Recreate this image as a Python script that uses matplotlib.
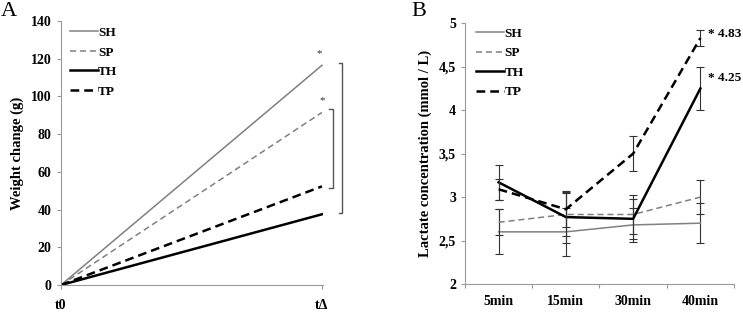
import matplotlib
matplotlib.use("Agg")
import matplotlib.pyplot as plt
import numpy as np

# ---------------- data ----------------
series = ["SH", "SP", "TH", "TP"]
a_xlabels = ["t0", "t\u0394"]
a_end = [116.5, 91.5, 37.5, 52.3]          # weight change at tΔ (start 0)

b_xlabels = ["5min", "15min", "30min", "40min"]
b_SH = [2.60, 2.60, 2.68, 2.70]
b_SP = [2.71, 2.80, 2.80, 3.00]
b_TH = [3.17, 2.77, 2.75, 4.25]
b_TP = [3.09, 2.86, 3.50, 4.83]
e_SH = [0.26, 0.28, 0.20, 0.23]
e_SP = [0.15, 0.25, 0.22, 0.20]
e_TH = [0.20, 0.30, 0.23, 0.25]
e_TP = [0.12, 0.20, 0.20, 0.09]

styles = {
    "SH": dict(color="#808080", lw=1.1, ls="-"),
    "SP": dict(color="#808080", lw=1.1, ls=(0, (4, 2.5))),
    "TH": dict(color="#000000", lw=1.8, ls="-"),
    "TP": dict(color="#000000", lw=1.8, ls=(0, (3.5, 2))),
}

plt.rcParams['font.family'] = ['Liberation Serif', 'DejaVu Serif']
fig = plt.figure(figsize=(7.43, 3.12), dpi=100)

W, H = 743.0, 312.0
def box(l, t, r, b):
    return [l / W, 1 - b / H, (r - l) / W, (b - t) / H]

spine_c = "#999999"
TFS = 10
tick_font = dict(fontsize=TFS, fontweight="bold")
leg_prop = dict(size=9.5, weight="bold")

# ---------------- Panel A ----------------
axA = fig.add_axes(box(61, 21, 323, 285))
for s, v in zip(series, a_end):
    axA.plot([0, 1], [0, v], label=s, **styles[s])
axA.set_xlim(0, 1.004)
axA.set_ylim(0, 140)
axA.set_yticks(np.arange(0, 141, 20))
axA.set_xticks([0, 1])
axA.set_xticklabels(a_xlabels, **tick_font)
for lab in axA.get_yticklabels():
    lab.set_fontweight("bold"); lab.set_fontsize(TFS)
axA.set_ylabel("Weight change (g)", fontsize=10.5, fontweight="bold", labelpad=5)
for sp in ["top", "right"]:
    axA.spines[sp].set_visible(False)
for sp in ["left", "bottom"]:
    axA.spines[sp].set_color(spine_c)
axA.tick_params(axis="both", length=3, color=spine_c, pad=4)
axA.tick_params(axis="x", pad=7)
# significance brackets and stars
bc = "#555555"
axA.plot([1.065, 1.077, 1.077, 1.065], [117.8, 117.8, 38.0, 38.0], color=bc, lw=1.0, clip_on=False)
axA.plot([1.027, 1.042, 1.042, 1.027], [93.3, 93.3, 51.6, 51.6], color=bc, lw=1.0, clip_on=False)
axA.text(0.99, 122.5, "*", fontsize=8, ha="center", va="center", color="#333333")
axA.text(1.003, 98, "*", fontsize=8, ha="center", va="center", color="#333333")
axA.legend(loc="upper left", bbox_to_anchor=(0.034, 0.978), frameon=False,
           handlelength=2.1, handletextpad=0.05, labelspacing=0.55,
           borderaxespad=0, borderpad=0, prop=leg_prop)
fig.text(1 / W, 1 - 11 / H, "A", fontsize=16, va="center", ha="left")

# ---------------- Panel B ----------------
axB = fig.add_axes(box(465, 23.3, 734, 284))
x = np.arange(len(b_xlabels))
for s, y, e in zip(series, [b_SH, b_SP, b_TH, b_TP], [e_SH, e_SP, e_TH, e_TP]):
    axB.errorbar(x, y, yerr=e, fmt="none", ecolor="#333333", elinewidth=0.8,
                 capsize=3, capthick=0.8)
    axB.plot(x, y, label=s, **styles[s])
axB.set_xlim(-0.5, 3.5)
axB.set_ylim(2, 5)
axB.set_yticks([2, 2.5, 3, 3.5, 4, 4.5, 5])
axB.set_yticklabels(["2", "2,5", "3", "3,5", "4", "4,5", "5"], **tick_font)
axB.set_xticks([-0.5, 0.5, 1.5, 2.5, 3.5])
axB.set_xticklabels([])
axB.set_xticks(x, minor=True)
axB.set_xticklabels(b_xlabels, minor=True, **tick_font)
axB.tick_params(axis="x", which="minor", length=0, pad=8)
axB.tick_params(axis="both", which="major", length=3, color=spine_c)
axB.set_ylabel("Lactate concentration (mmol / L)", fontsize=10.5, fontweight="bold", labelpad=5)
for sp in ["top", "right"]:
    axB.spines[sp].set_visible(False)
for sp in ["left", "bottom"]:
    axB.spines[sp].set_color(spine_c)
axB.text(3.11, 4.88, "* 4.83", fontsize=9.5, fontweight="bold", ha="left", va="center")
axB.text(3.11, 4.37, "* 4.25", fontsize=9.5, fontweight="bold", ha="left", va="center")
axB.legend(loc="upper left", bbox_to_anchor=(0.041, 0.983), frameon=False,
           handlelength=2.1, handletextpad=0.05, labelspacing=0.55,
           borderaxespad=0, borderpad=0, prop=leg_prop)
fig.text(411 / W, 1 - 11 / H, "B", fontsize=16, va="center", ha="left")

fig.savefig("out.png", dpi=100)
